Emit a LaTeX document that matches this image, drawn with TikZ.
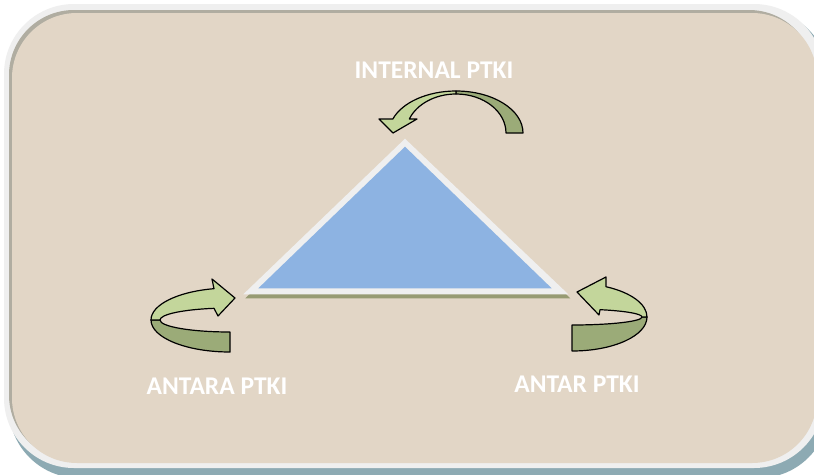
\documentclass[tikz,border=0pt]{standalone}
\usepackage{fontspec}
\setmainfont{Carlito}
\usetikzlibrary{calc}
\definecolor{panel}{HTML}{E2D6C6}
\definecolor{panelrim}{HTML}{EFEFEF}
\definecolor{rimgray}{HTML}{B0ADA1}
\definecolor{shadowblue}{HTML}{8DAAB3}
\definecolor{triblue}{HTML}{8DB3E2}
\definecolor{tririm}{HTML}{EFEFEF}
\definecolor{trishadow}{HTML}{979B73}
\definecolor{arrowlight}{HTML}{C3D69B}
\definecolor{arrowdark}{HTML}{9BAB78}
\begin{document}
\begin{tikzpicture}[x=1pt,y=-1pt,
  lbl/.style={text=white,font=\bfseries\fontsize{25.5}{28}\selectfont,inner sep=0pt},
  armlight/.style={fill=arrowlight,draw=black,line width=1.2pt,line join=round},
  armdark/.style={fill=arrowdark,draw=black,line width=1.2pt,line join=round}]
\useasboundingbox (0,0) rectangle (814,474);
\fill[white] (0,0) rectangle (814,474);

% rounded panel with rim and drop shadow
\begin{scope}
  \clip (0,0) rectangle (814,474);
  \fill[shadowblue,rounded corners=70pt] (9,9) rectangle (829,478);
  \fill[panelrim,rounded corners=70pt] (4,4) rectangle (824,468);
  \fill[rimgray,rounded corners=65pt] (9,10) rectangle (814,460);
  \fill[panel,rounded corners=65pt] (12,13) rectangle (817,463);
\end{scope}

% central triangle
\fill[trishadow] (245.3,298.3) -- (407,142.7) -- (570.3,298.3) -- cycle;
\fill[tririm] (243.3,294.3) -- (405,138.7) -- (568.3,294.3) -- cycle;
\fill[triblue] (258.3,288.3) -- (405,146.7) -- (551.7,288.3) -- cycle;

% top curved arrow (INTERNAL PTKI)
\coordinate (ct) at (456,133);
\draw[armdark] ($(ct)+(270:67 and 42)$)
  arc[start angle=270,end angle=360,x radius=67,y radius=42]
  -- ($(ct)+(0:50 and 39)$)
  arc[start angle=360,end angle=270,x radius=50,y radius=39] -- cycle;
\draw[armlight] ($(ct)+(270:67 and 42)$)
  arc[start angle=270,end angle=199.47,x radius=67,y radius=42]
  -- (379,119) -- (393,133) -- (417,119)
  -- ($(ct)+(201.0:50 and 39)$)
  arc[start angle=201.0,end angle=270,x radius=50,y radius=39] -- cycle;

% left curved arrow (ANTARA PTKI)
\coordinate (cl) at (230,320);
\draw[armdark] ($(cl)+(180:79 and 32)$)
  arc[start angle=180,end angle=90,x radius=79,y radius=32]
  -- ($(cl)+(90:70 and 12)$)
  arc[start angle=90,end angle=180,x radius=70,y radius=12] -- cycle;
\draw[armlight] ($(cl)+(258.3:79 and 32)$)
  arc[start angle=258.3,end angle=180,x radius=79,y radius=32]
  -- ($(cl)+(180:70 and 12)$)
  arc[start angle=180,end angle=256.8,x radius=70,y radius=12]
  -- (218,316) -- (235,298) -- (212,279) -- cycle;

% right curved arrow (ANTAR PTKI)
\coordinate (cr) at (572,317);
\draw[armdark] ($(cr)+(0:75 and 34)$)
  arc[start angle=0,end angle=90,x radius=75,y radius=34]
  -- ($(cr)+(90:70 and 8)$)
  arc[start angle=90,end angle=0,x radius=70,y radius=8] -- cycle;
\draw[armlight] ($(cr)+(297:75 and 34)$)
  arc[start angle=297,end angle=360,x radius=75,y radius=34]
  -- ($(cr)+(0:70 and 8)$)
  arc[start angle=360,end angle=293.6,x radius=70,y radius=8]
  -- (599,315) -- (577,292) -- (606,277) -- cycle;

% labels
\node[lbl] (internal) at (434,70) {INTERNAL PTKI};
\node[lbl] (antara) at (217,386) {ANTARA PTKI};
\node[lbl] (antar) at (577,384) {ANTAR PTKI};
\end{tikzpicture}
\end{document}
